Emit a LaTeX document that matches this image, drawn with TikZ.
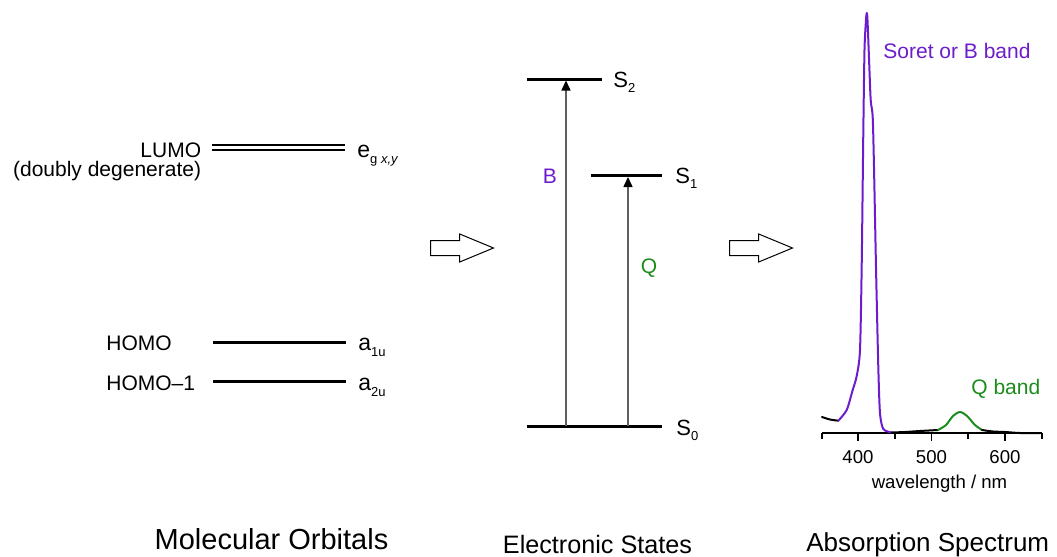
\documentclass[tikz,border=0pt]{standalone}
\usepackage{fontspec}
\setmainfont{Liberation Sans}
\usetikzlibrary{arrows.meta, positioning, shapes.arrows}
\definecolor{soretPurple}{RGB}{108,28,204}
\definecolor{qGreen}{RGB}{28,140,28}
\definecolor{arrGray}{RGB}{95,95,95}
\newcommand{\lowsub}[1]{\raisebox{-0.5ex}{\fontsize{6.5}{7}\selectfont #1}}
\tikzset{
  stateLine/.style={line width=1.5pt, black},
  lumoLine/.style={double, double distance=1.6pt, line width=1.1pt, black},
  txt/.style={font=\fontsize{10.5}{12}\selectfont, inner sep=0pt},
  symLbl/.style={font=\fontsize{11.5}{13}\selectfont, inner sep=0pt},
  stLbl/.style={font=\fontsize{11}{13}\selectfont, inner sep=0pt},
  titleT/.style={font=\fontsize{13}{15}\selectfont, inner sep=0pt},
  axLbl/.style={font=\fontsize{9.3}{11}\selectfont, inner sep=0pt},
  excite/.style={-{Triangle[length=5pt,width=4.5pt,color=black]}, line width=0.75pt, color=arrGray},
  hollowArr/.style={single arrow, draw=black, line width=0.5pt, fill=white,
    minimum height=31.5pt, inner sep=3.5pt, anchor=tail,
    single arrow head extend=3.25pt, single arrow tip angle=45},
  spec/.style={line width=1pt, line join=round, line cap=round},
}

\begin{document}
\begin{tikzpicture}[x=0.5pt, y=-0.5pt]
\useasboundingbox (0,0) rectangle (1057,557);

%% ── MOLECULAR ORBITALS ───────────────────────────────────
\coordinate (lumoL) at (212,147.5);
\coordinate (lumoR) at (345,147.5);
\coordinate (homoL) at (213,342.5);
\coordinate (homoR) at (346,342.5);
\coordinate (homoBL) at (213,381.5);
\coordinate (homoBR) at (346,381.5);

\draw[lumoLine] (lumoL) -- (lumoR);
\draw[stateLine] (homoL) -- (homoR);
\draw[stateLine] (homoBL) -- (homoBR);

\node[txt, anchor=base east] (lumo) at (201.5,157) {LUMO};
\node[txt, anchor=base east] (degen) at (201.5,176) {(doubly degenerate)};
\node[txt, anchor=base west] (homo) at (106,350) {HOMO};
\node[txt, anchor=base west] (homoB) at (106,390) {HOMO--1};

\node[symLbl, anchor=base west] (eg) at (357,157)
  {e\lowsub{g \textit{x,y}}};
\node[symLbl, anchor=base west] (a1u) at (358,350.5) {a\lowsub{1u}};
\node[symLbl, anchor=base west] (a2u) at (358,390) {a\lowsub{2u}};

\node[hollowArr] (toStates) at (430,248) {};

%% ── ELECTRONIC STATES ───────────────────────────────────
\coordinate (s2L) at (527,79);
\coordinate (s2R) at (602,79);
\coordinate (s1L) at (591,175.5);
\coordinate (s1R) at (662,175.5);
\coordinate (s0L) at (527,426);
\coordinate (s0R) at (662,426);

\draw[stateLine] (s2L) -- (s2R);
\draw[stateLine] (s1L) -- (s1R);
\draw[stateLine] (s0L) -- (s0R);

\node[stLbl, anchor=base west] (s2) at (613,87) {S\lowsub{2}};
\node[stLbl, anchor=base west] (s1) at (675,183) {S\lowsub{1}};
\node[stLbl, anchor=base west] (s0) at (676,435) {S\lowsub{0}};

\coordinate (bFoot) at (566,426);
\coordinate (qFoot) at (628,426);
\draw[excite, shorten >=0.75pt] (bFoot) -- (bFoot |- s2L);
\draw[excite, shorten >=0.75pt] (qFoot) -- (qFoot |- s1L);

\node[txt, text=soretPurple] (bLbl) at (550,176.5) {B};
\node[txt, text=qGreen] (qLbl) at (649,268) {Q};

\node[hollowArr] (toSpec) at (729,248) {};

%% ── ABSORPTION SPECTRUM ─────────────────────────────────
\draw[line width=0.75pt] (822,433) -- (1042,433);
\foreach \tx in {822,895,968,1042}
  \draw[line width=0.75pt] (\tx,433) -- (\tx,439);
\foreach \tx/\lab in {858/400,931.5/500,1005/600}{
  \draw[line width=0.75pt] (\tx,433) -- (\tx,441);
  \node[axLbl, anchor=base] at (\tx,463.5) {\lab};
}
\node[axLbl, anchor=base] (wlAx) at (939.5,488) {wavelength / nm};

\draw[spec] plot[smooth, tension=0.5] coordinates
  {(822,417) (830,419.5) (838.3,420.7)};
\draw[spec, soretPurple] plot[smooth, tension=0.45] coordinates
  {(838.3,420.7) (846.7,410) (852.7,390) (856.7,376) (860,350)
   (861.7,266) (863.3,133) (864.5,50) (866,20) (866.8,13)
   (867.5,20) (869.3,66) (870.7,100) (872.7,117) (874,167)
   (876,267) (878.3,367) (880,413) (883.3,429) (891.5,432.5)};
\draw[spec] plot[smooth, tension=0.5] coordinates
  {(891.5,432.5) (905,432) (920,431) (938,430)};
\draw[spec, qGreen] plot[smooth, tension=0.5] coordinates
  {(938,430) (946,425) (953,416) (960,412) (967,416) (975,425) (982,430)};
\draw[spec] plot[smooth, tension=0.5] coordinates
  {(982,430) (993,431.5) (1005,432) (1020,433) (1040,433)};

\node[txt, anchor=base west, text=soretPurple] (soret) at (883,58.5) {Soret or B band};
\node[txt, anchor=base west, text=qGreen] (qBand) at (971,394.5) {Q band};

%% ── TITLES ──────────────────────────────────────────────
\node[titleT, anchor=base, font=\fontsize{14.5}{16}\selectfont] (moT) at (271.5,549) {Molecular Orbitals};
\node[titleT, anchor=base, font=\fontsize{12.6}{15}\selectfont] (esT) at (597.5,553) {Electronic States};
\node[titleT, anchor=base west] (asT) at (806,551) {Absorption Spectrum};

\end{tikzpicture}
\end{document}
